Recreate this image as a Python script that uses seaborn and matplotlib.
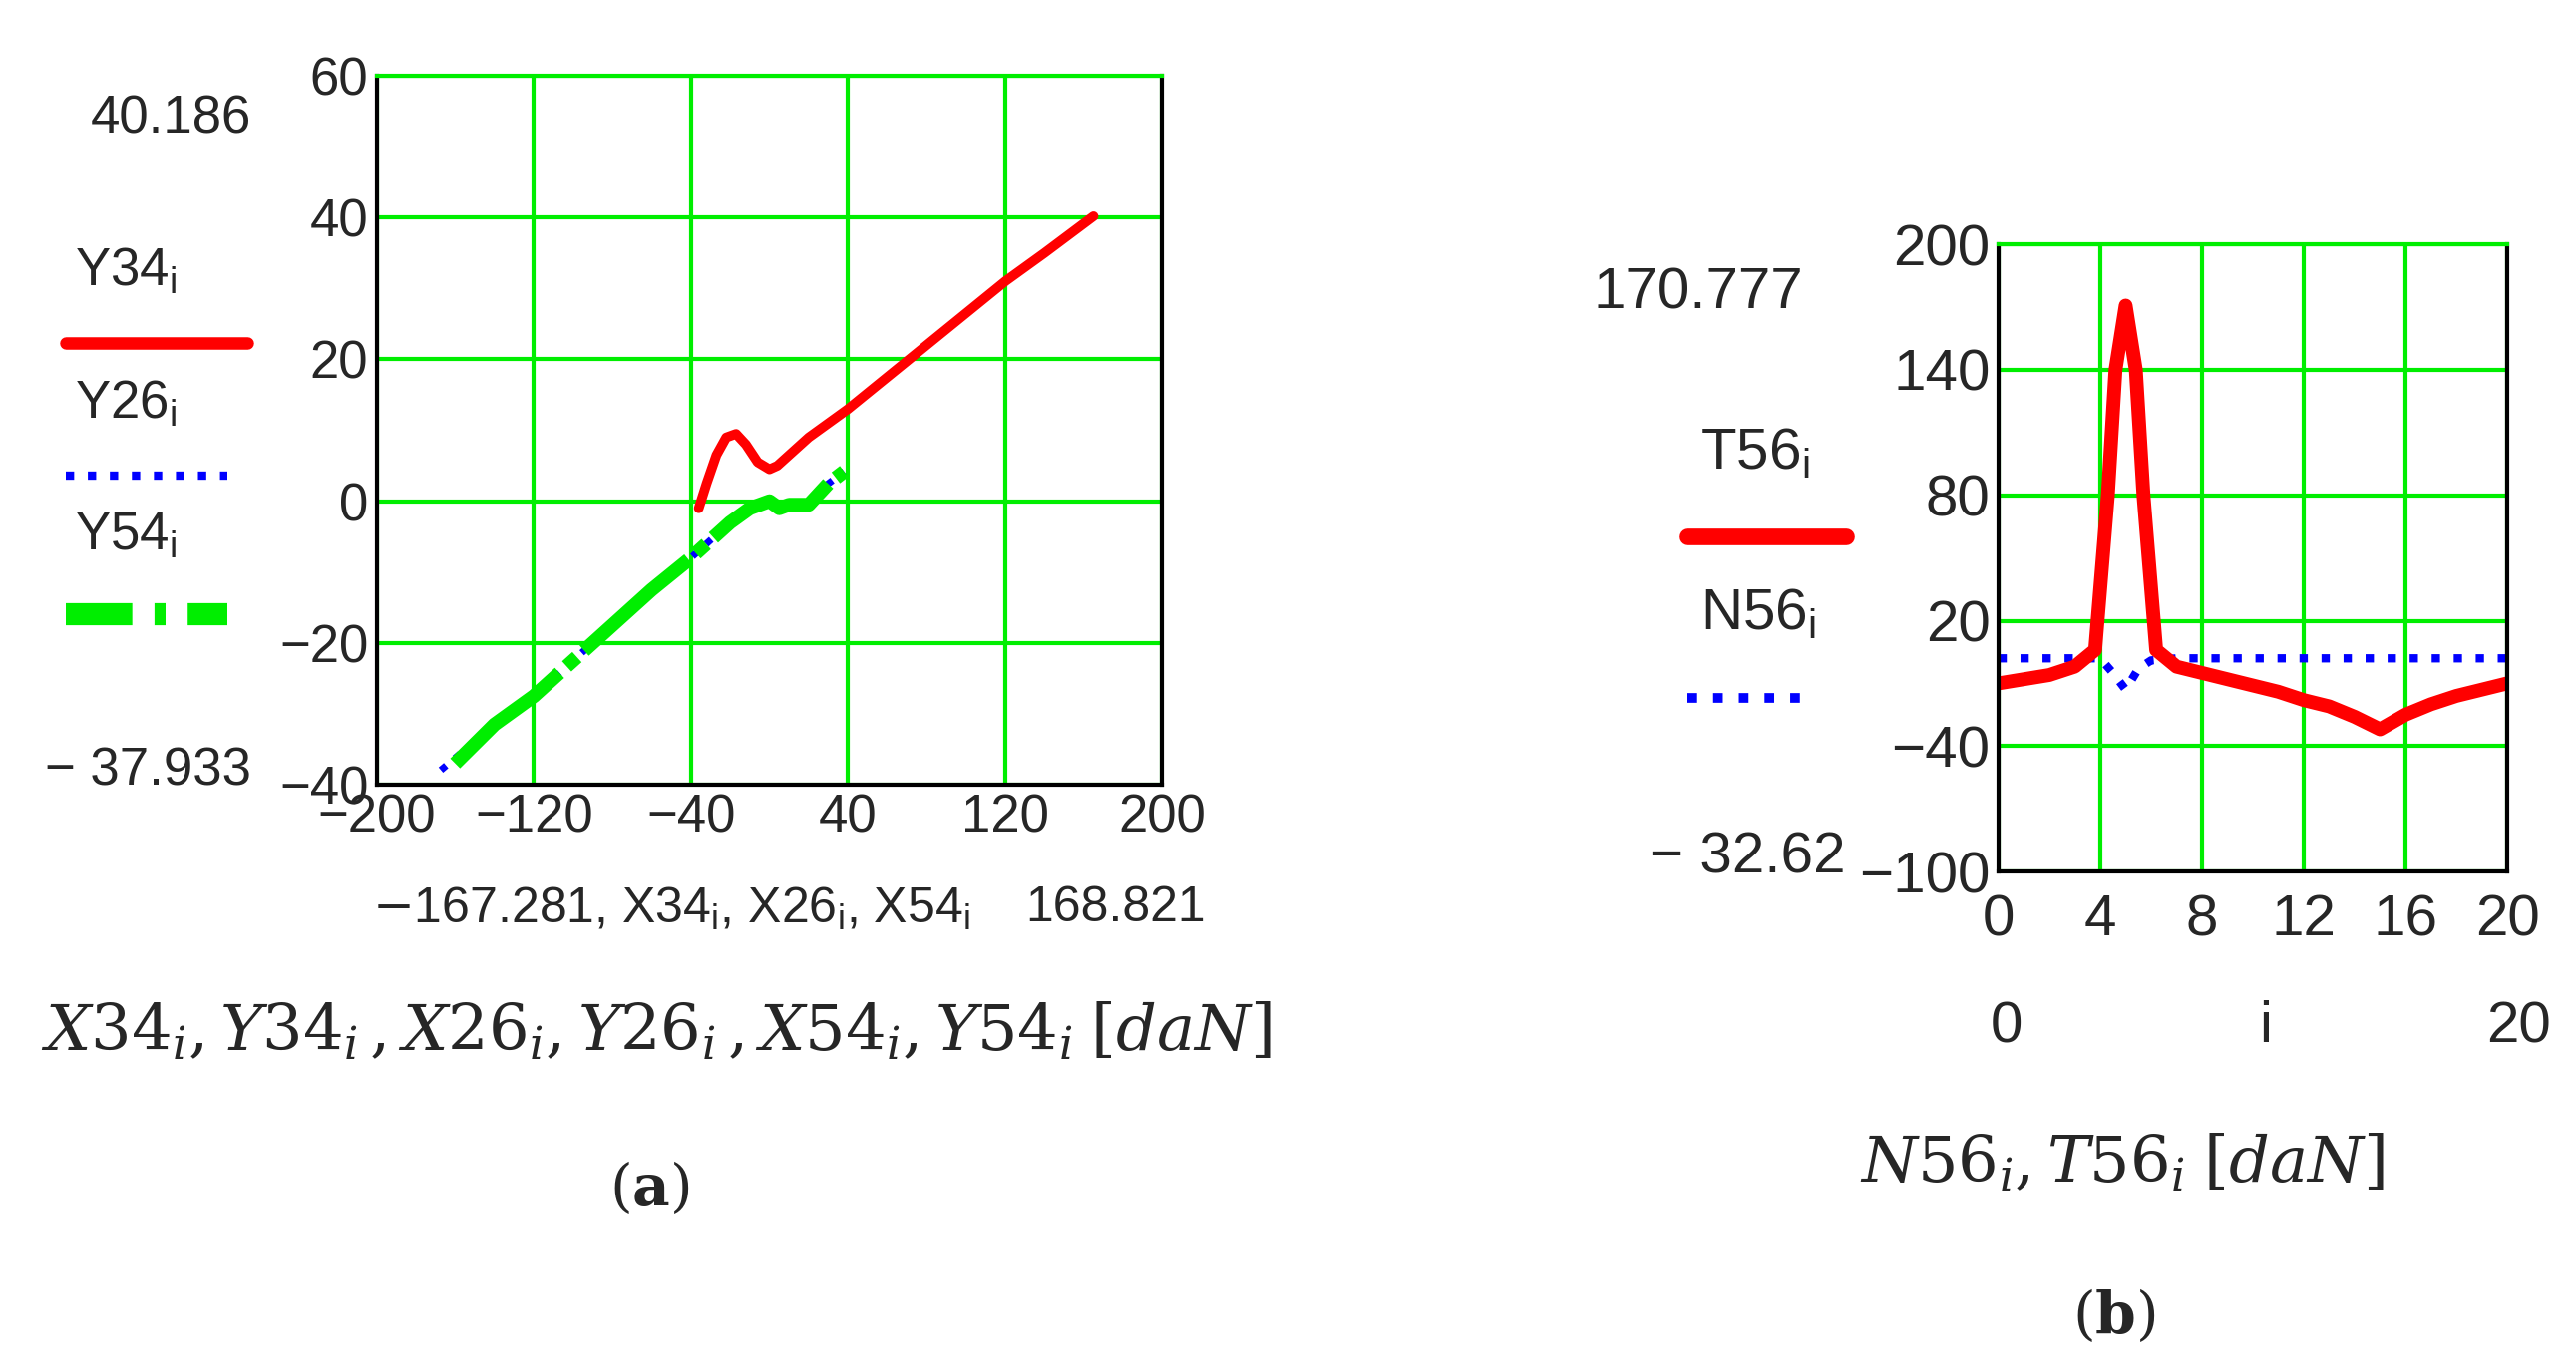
import matplotlib
matplotlib.use("Agg")
import matplotlib.pyplot as plt
import seaborn as sns
import pandas as pd

# panel (a): joint reaction components
x34 = [-36, -32, -27, -22, -17, -12, -6, 0, 4, 10, 20, 40, 60, 80, 100, 120, 140, 165]
y34 = [-1, 2.5, 6.5, 9, 9.5, 8, 5.5, 4.5, 5, 6.5, 9, 13, 17.5, 22, 26.5, 31, 35, 40.186]
x26 = [-167.281, -140, -120, -100, -80, -60, -40, -30, -20, -10, 0, 5, 10, 20, 30, 38]
y26 = [-37.933, -31.5, -27.5, -22.5, -17.5, -12.5, -8, -5.5, -3, -1, 0, -1, -0.5, -0.5, 2.5, 4.2]
x54 = [-160, -140, -120, -100, -80, -60, -40, -30, -20, -10, 0, 5, 10, 20, 30, 38]
y54 = [-37, -31.5, -27.5, -22.5, -17.5, -12.5, -8, -5.5, -3, -1, 0, -1, -0.5, -0.5, 2.5, 4.2]

# panel (b): forces vs index i
i_vals = [0, 1, 2, 3, 3.8, 4.3, 4.6, 5, 5.4, 5.7, 6.2, 7, 8, 9, 10, 11, 12, 13, 14, 15, 16, 17, 18, 19, 20]
t56 = [-10, -8, -6, -2, 6, 80, 140, 170.777, 140, 80, 6, -2, -5, -8, -11, -14, -18, -21, -26, -32, -25, -20, -16, -13, -10]
n_i = [0, 1, 2, 3, 4, 4.5, 5, 5.5, 6, 7, 8, 9, 10, 11, 12, 13, 14, 15, 16, 17, 18, 19, 20]
n56 = [2, 2, 2, 2, 2, -5, -13, -3, 1, 2, 2, 2, 2, 2, 2, 2, 2, 2, 2, 2, 2, 2, 2]

sns.set_theme(style="white")
plt.rcParams['font.family'] = ['Liberation Sans', 'DejaVu Sans']
plt.rcParams['mathtext.fontset'] = 'dejavuserif'

RED, BLUE, GREEN = '#ff0000', '#0000ff', '#00ee00'
fig = plt.figure(figsize=(25.83, 13.7), dpi=100)
W, H = 2583, 1370


def px(x, y):
    return x / W, 1 - y / H


def style_axes(ax, pad_x):
    ax.grid(True, color=GREEN, lw=3)
    for s in ax.spines.values():
        s.set_color('black')
        s.set_linewidth(3)
    ax.spines['top'].set_color(GREEN)
    ax.tick_params(labelsize=38, length=0, pad=6)
    ax.tick_params(axis='x', pad=pad_x)
    ax.set_xlabel('')
    ax.set_ylabel('')


ax1 = fig.add_axes([0.1462, 0.4255, 0.305, 0.519])
sns.lineplot(x=x26, y=y26, ax=ax1, color=BLUE, lw=5, ls=':', sort=False)
sns.lineplot(x=x54, y=y54, ax=ax1, color=GREEN, lw=10, ls=(0, (10, 0.7, 1, 0.7)), sort=False)
sns.lineplot(x=x34, y=y34, ax=ax1, color=RED, lw=7, sort=False)
ax1.set_xlim(-200, 200)
ax1.set_ylim(-40, 60)
ax1.set_xticks([-200, -120, -40, 40, 120, 200])
ax1.set_yticks([-40, -20, 0, 20, 40, 60])
style_axes(ax1, 6)

df_t = pd.DataFrame({'i': i_vals, 'T56': t56})
df_n = pd.DataFrame({'i': n_i, 'N56': n56})
ax2 = fig.add_axes([0.7758, 0.362, 0.1975, 0.459])
sns.lineplot(data=df_n, x='i', y='N56', ax=ax2, color=BLUE, lw=6, ls=':')
sns.lineplot(data=df_t, x='i', y='T56', ax=ax2, color=RED, lw=10)
ax2.set_xlim(0, 20)
ax2.set_ylim(-100, 200)
ax2.set_xticks([0, 4, 8, 12, 16, 20])
ax2.set_yticks([-100, -40, 20, 80, 140, 200])
style_axes(ax2, 16)
for t in ax2.get_xticklabels():
    t.set_fontsize(42)
for t in ax2.get_yticklabels():
    t.set_fontsize(42)

fs = 38
# left-side Mathcad annotations, panel (a)
fig.text(*px(252, 119), '40.186', fontsize=fs, ha='right', va='center')
fig.text(*px(75, 273), r'Y34$_\mathregular{i}$', fontsize=fs, va='center')
fig.add_artist(plt.Line2D([66 / W, 248 / W], [1 - 344 / H] * 2, color=RED, lw=9))
fig.text(*px(75, 406), r'Y26$_\mathregular{i}$', fontsize=fs, va='center')
fig.add_artist(plt.Line2D([66 / W, 228 / W], [1 - 477 / H] * 2, color=BLUE, lw=6, ls=':'))
fig.text(*px(75, 538), r'Y54$_\mathregular{i}$', fontsize=fs, va='center')
fig.add_artist(plt.Line2D([66 / W, 228 / W], [1 - 616 / H] * 2, color=GREEN, lw=16,
                          ls=(0, (3, 1, 0.5, 1))))
fig.text(*px(252, 773), '\u2212 37.933', fontsize=fs, ha='right', va='center')
fig.text(*px(373, 911), r'$-$167.281, X34$_\mathregular{i}$, X26$_\mathregular{i}$, X54$_\mathregular{i}$',
         fontsize=36, va='center')
fig.text(*px(1209, 911), '168.821', fontsize=36, ha='right', va='center')

# panel (b) annotations
fs2 = 42
fig.text(*px(1808, 295), '170.777', fontsize=fs2, ha='right', va='center')
fig.text(*px(1705, 455), r'T56$_\mathregular{i}$', fontsize=fs2, va='center')
fig.add_artist(plt.Line2D([1692 / W, 1851 / W], [1 - 538 / H] * 2, color=RED, lw=12))
fig.text(*px(1705, 616), r'N56$_\mathregular{i}$', fontsize=fs2, va='center')
fig.add_artist(plt.Line2D([1692 / W, 1820 / W], [1 - 700 / H] * 2, color=BLUE, lw=7, ls=':'))
fig.text(*px(1850, 861), '\u2212 32.62', fontsize=fs2, ha='right', va='center')
fig.text(*px(2012, 1030), '0', fontsize=fs2, ha='center', va='center')
fig.text(*px(2272, 1030), 'i', fontsize=fs2, ha='center', va='center')
fig.text(*px(2525, 1030), '20', fontsize=fs2, ha='center', va='center')

# captions
fig.text(*px(658, 1035), r'$X34_i, Y34_i\,, X26_i, Y26_i\,, X54_i, Y54_i\;[daN]$',
         fontsize=46, ha='center', va='center')
fig.text(*px(651, 1192), r'($\mathbf{a}$)', fontsize=42, ha='center', va='center', family='DejaVu Serif')
fig.text(*px(2128, 1167), r'$N56_i, T56_i\;[daN]$', fontsize=46, ha='center', va='center')
fig.text(*px(2120, 1320), r'($\mathbf{b}$)', fontsize=42, ha='center', va='center', family='DejaVu Serif')

fig.savefig('out.png', dpi=100)
